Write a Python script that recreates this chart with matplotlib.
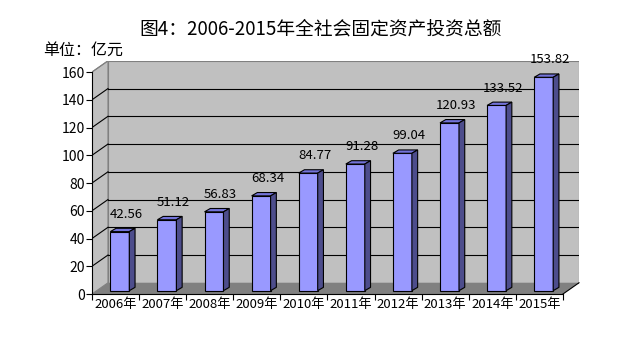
import matplotlib
matplotlib.use("Agg")
import matplotlib.pyplot as plt
from matplotlib.patches import Polygon

plt.rcParams['font.family'] = ['Noto Sans CJK SC', 'DejaVu Sans']

years = ["2006年", "2007年", "2008年", "2009年", "2010年",
         "2011年", "2012年", "2013年", "2014年", "2015年"]
values = [42.56, 51.12, 56.83, 68.34, 84.77, 91.28, 99.04, 120.93, 133.52, 153.82]
yticks = [0, 20, 40, 60, 80, 100, 120, 140, 160]

# 3d look: depth of the walls and of the bars, in data units
dX, dY = 0.34, 8.1
bx0, bw, bb = 0.389, 0.403, 2.4
sdx, sdy = 0.122, 2.4
ymax = yticks[-1]
n = len(values)

fig = plt.figure(figsize=(6.43, 3.62), dpi=100)
ax = fig.add_axes([92 / 643, 68 / 362, 487 / 643, 233.2 / 362])
ax.set_xlim(0, n + dX)
ax.set_ylim(0, ymax + dY)

wall = '#c0c0c0'
edge = '#808080'
# left wall, back wall, floor
ax.add_patch(Polygon([(0, 0), (dX, dY), (dX, ymax + dY), (0, ymax)],
                     closed=True, fc=wall, ec=edge, lw=0.8, zorder=1))
ax.add_patch(Polygon([(dX, dY), (n + dX, dY), (n + dX, ymax + dY), (dX, ymax + dY)],
                     closed=True, fc=wall, ec=edge, lw=0.8, zorder=1))
ax.add_patch(Polygon([(0, 0), (n, 0), (n + dX, dY), (dX, dY)],
                     closed=True, fc='#808080', ec='none', zorder=1))

for v in yticks[1:]:
    c = 'black' if v < ymax else edge
    ax.plot([0, dX], [v, v + dY], color=c, lw=0.8, zorder=2)
    if v < ymax:
        ax.plot([dX, n + dX], [v + dY, v + dY], color='black', lw=0.8, zorder=2)
ax.plot([n, n + dX], [0, dY], color='black', lw=0.8, zorder=2, clip_on=False)

# bars
xs = [i + bx0 for i in range(n)]
ax.bar(xs, values, width=bw, bottom=bb, align='edge', color='#9999ff',
       edgecolor='black', linewidth=0.8, zorder=3)
for x, v in zip(xs, values):
    top = bb + v
    ax.add_patch(Polygon([(x, top), (x + bw, top), (x + bw + sdx, top + sdy), (x + sdx, top + sdy)],
                         closed=True, fc='#7373d9', ec='black', lw=0.8, zorder=3))
    ax.add_patch(Polygon([(x + bw, bb), (x + bw + sdx, bb + sdy), (x + bw + sdx, top + sdy), (x + bw, top)],
                         closed=True, fc='#4d4d8c', ec='black', lw=0.8, zorder=3))
    ax.text(x + 0.34, top + 10, f"{v:.2f}", ha='center', va='baseline',
            fontsize=9.5, zorder=4)

# axes
for s in ['top', 'right']:
    ax.spines[s].set_visible(False)
ax.spines['left'].set_bounds(0, ymax)
ax.spines['bottom'].set_bounds(0, n)
ax.spines['left'].set_zorder(5)
ax.spines['bottom'].set_zorder(5)
ax.set_yticks(yticks)
ax.tick_params(axis='y', direction='out', length=4, width=0.8, labelsize=10, pad=1)
ax.set_xticks([i + 0.5 for i in range(n)])
ax.set_xticklabels(years)
ax.set_xticks(range(n + 1), minor=True)
ax.tick_params(axis='x', which='major', length=0, labelsize=9.5, pad=3)
ax.tick_params(axis='x', which='minor', direction='out', length=4, width=0.8)

fig.text(321 / 643, 1 - 29 / 362, "图4：2006-2015年全社会固定资产投资总额",
         ha='center', va='center', fontsize=13.5)
fig.text(43 / 643, 1 - 50 / 362, "单位：亿元", ha='left', va='center', fontsize=11.5)

fig.savefig("out.png", dpi=100)
